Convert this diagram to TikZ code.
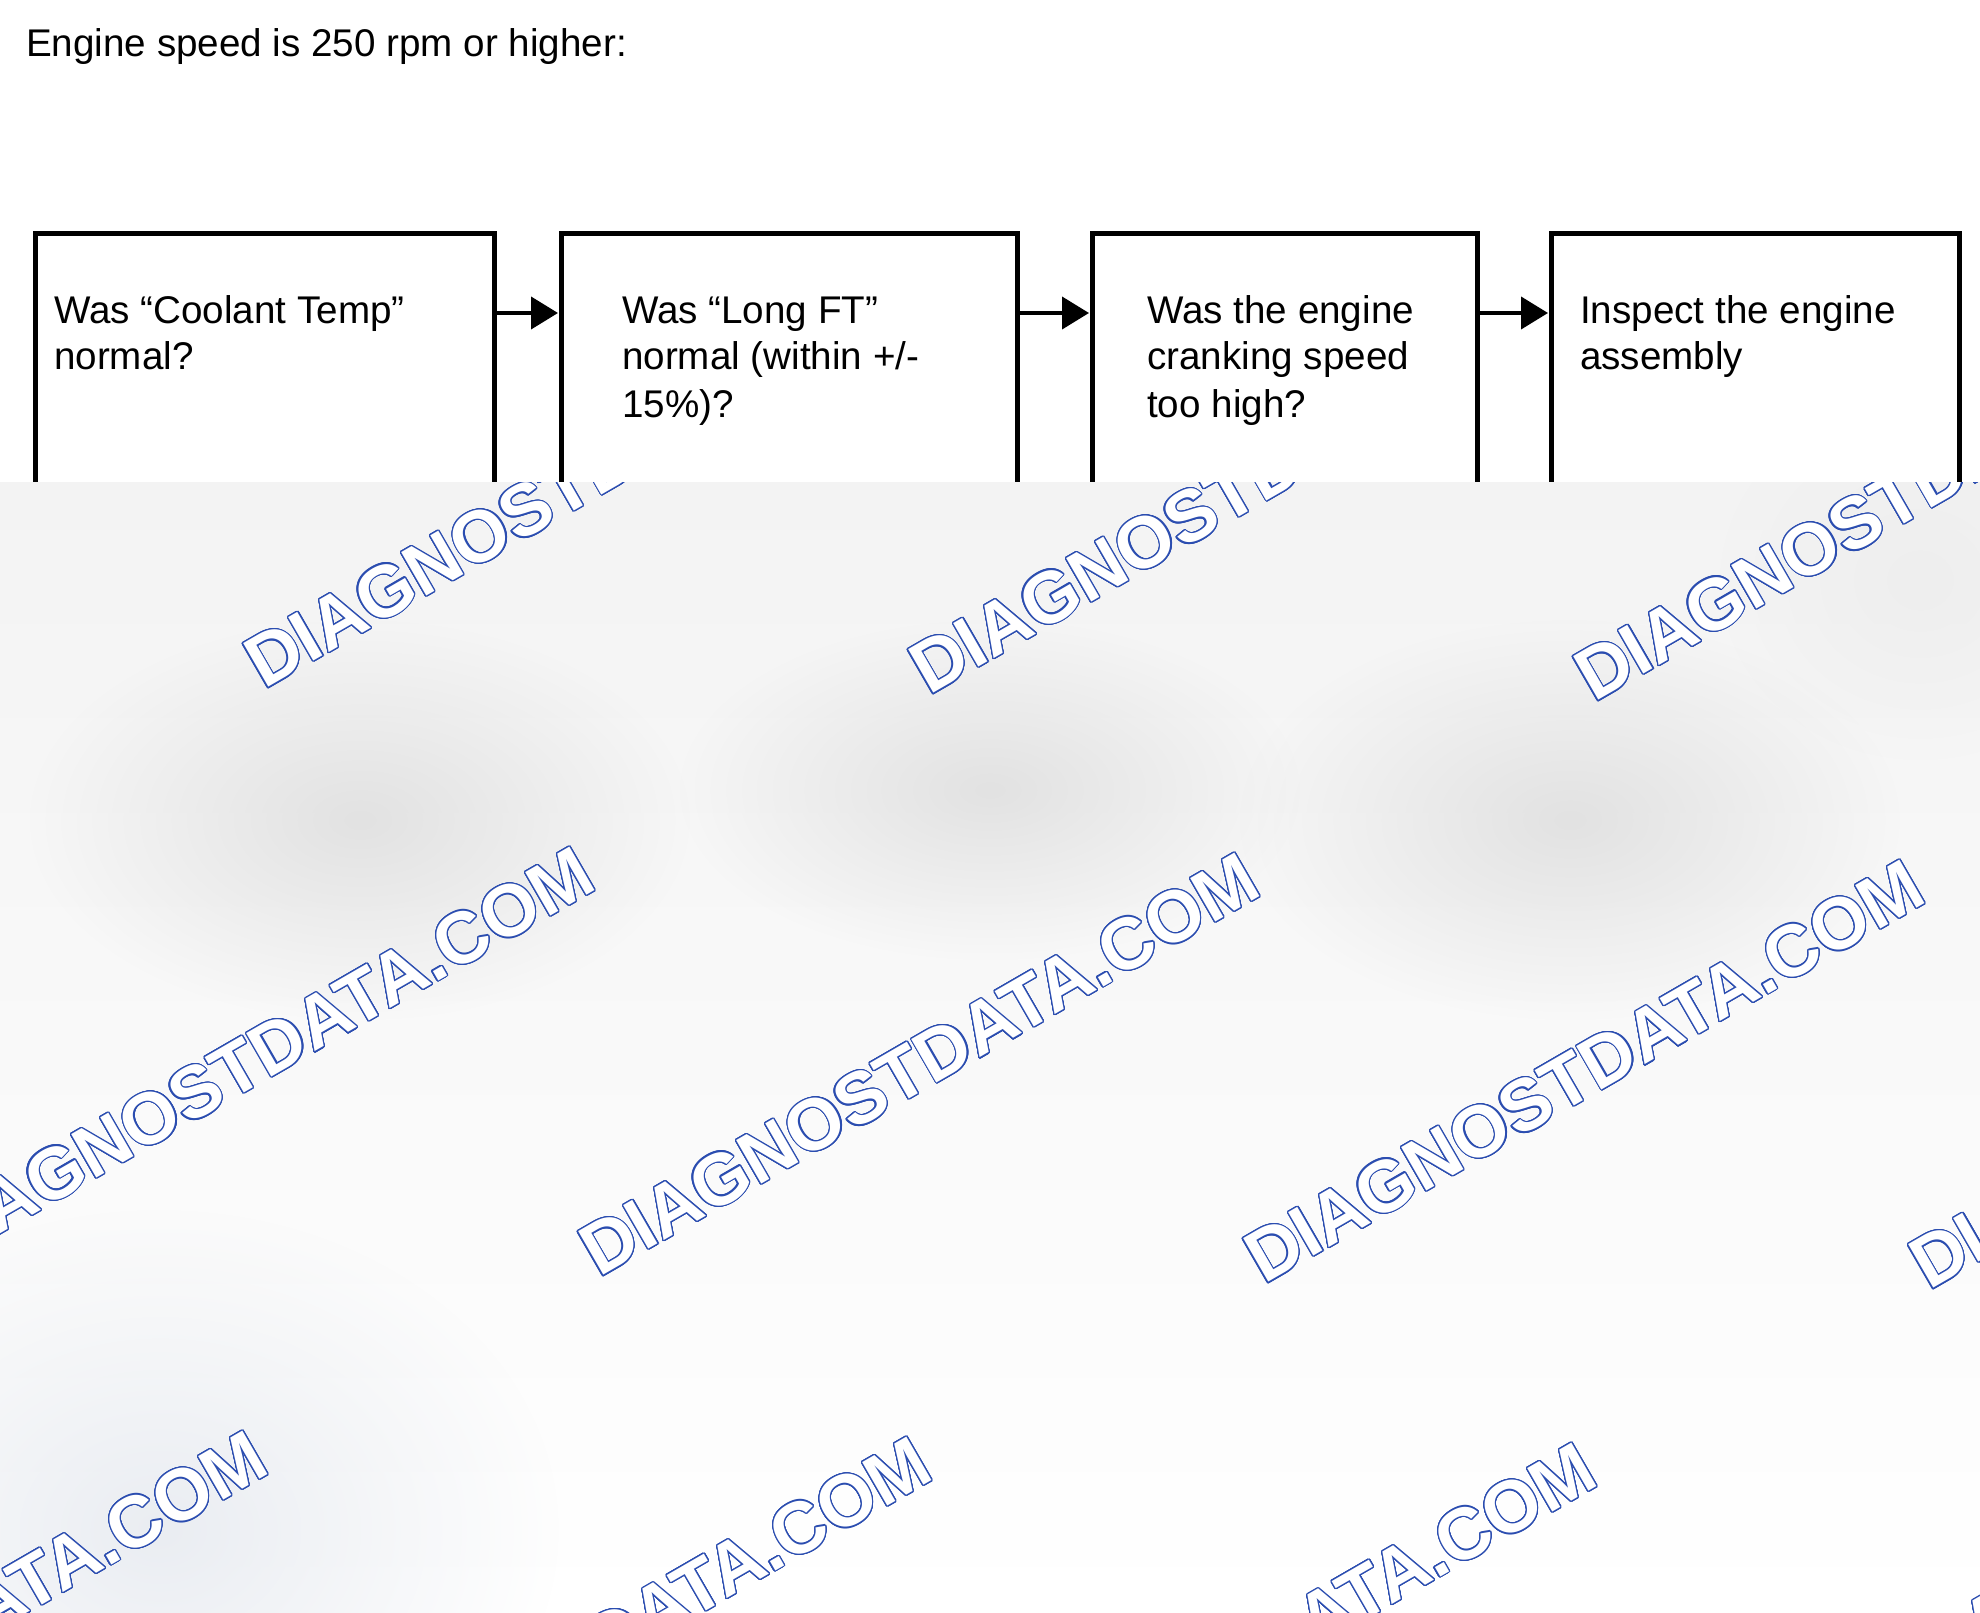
\documentclass[tikz,border=0pt]{standalone}
\usepackage{fontspec}
\setmainfont{Liberation Sans}
\usepackage[copies]{contour}
\usetikzlibrary{arrows.meta,fadings}

\definecolor{markBlue}{RGB}{43,77,176}
\definecolor{fogTop}{RGB}{243,243,243}
\definecolor{fogGray}{RGB}{226,226,226}
\definecolor{fogBlue}{RGB}{234,237,242}
\contourlength{1.2pt}
\contournumber{24}
\tikzfading[name=fogFade, inner color=transparent!0, outer color=transparent!100]

\begin{document}
\begin{tikzpicture}[x=1pt,y=-1pt,
  stepBox/.style={draw, line width=5pt, anchor=north west, inner sep=0, minimum height=369pt},
  stepText/.style={anchor=base west, inner sep=0, font=\fontsize{38.6}{47}\selectfont},
  flow/.style={line width=4pt, -{Triangle[length=27pt,width=32pt]}, shorten >=1pt},
  markText/.style={anchor=base west, inner sep=0, rotate=30, text=white, font=\fontsize{73}{73}\selectfont\bfseries}]
  \useasboundingbox (0,0) rectangle (1980,1613);
  \fill[white] (0,0) rectangle (1980,1613);
  \node[stepText] (title) at (26,57) {Engine speed is 250 rpm or higher:};
  % Boxes
  \node[stepBox, minimum width=459pt] (coolant) at (33,231) {};
  \node[stepBox, minimum width=456pt] (longft) at (559,231) {};
  \node[stepBox, minimum width=385pt] (cranking) at (1090,231) {};
  \node[stepBox, minimum width=408pt] (inspect) at (1549,231) {};
  \node[stepText] (coolantText) at (54,323) {\begin{tabular}[t]{@{}l@{}}Was “Coolant Temp”\\normal?\end{tabular}};
  \node[stepText] (longftText) at (622,323) {\begin{tabular}[t]{@{}l@{}}Was “Long FT”\\normal (within +/-\\15\%)?\end{tabular}};
  \node[stepText] (crankingText) at (1147,323) {\begin{tabular}[t]{@{}l@{}}Was the engine\\cranking speed\\too high?\end{tabular}};
  \node[stepText] (inspectText) at (1580,323) {\begin{tabular}[t]{@{}l@{}}Inspect the engine\\assembly\end{tabular}};
  % Arrows
  \draw[flow] ([yshift=-82pt]coolant.north east) -- ([yshift=-82pt]longft.north west);
  \draw[flow] ([yshift=-82pt]longft.north east) -- ([yshift=-82pt]cranking.north west);
  \draw[flow] ([yshift=-82pt]cranking.north east) -- ([yshift=-82pt]inspect.north west);
  % Fog and watermark
  \begin{scope}
    \clip (0,482) rectangle (1980,1613);
    \shade[top color=fogTop, bottom color=white] (0,482) rectangle (1980,1613);
    \fill[fogGray, path fading=fogFade] (360,820) ellipse (330 and 200);
    \fill[fogGray, path fading=fogFade] (990,790) ellipse (310 and 170);
    \fill[fogGray, path fading=fogFade] (1570,820) ellipse (330 and 200);
    \fill[fogGray!60!white, path fading=fogFade] (1920,580) ellipse (200 and 180);
    \fill[fogBlue, path fading=fogFade] (160,1530) ellipse (400 and 320);
    \node[markText] (mark1) at (264,690) {\contour{markBlue}{DIAGNOSTDATA.COM}};
    \node[markText] (mark2) at (929,696) {\contour{markBlue}{DIAGNOSTDATA.COM}};
    \node[markText] (mark3) at (1594,703) {\contour{markBlue}{DIAGNOSTDATA.COM}};
    \node[markText] (mark4) at (-66,1272) {\contour{markBlue}{DIAGNOSTDATA.COM}};
    \node[markText] (mark5) at (599,1278) {\contour{markBlue}{DIAGNOSTDATA.COM}};
    \node[markText] (mark6) at (1264,1285) {\contour{markBlue}{DIAGNOSTDATA.COM}};
    \node[markText] (mark7) at (1929,1291) {\contour{markBlue}{DIAGNOSTDATA.COM}};
    \node[markText] (mark8) at (-393,1856) {\contour{markBlue}{DIAGNOSTDATA.COM}};
    \node[markText] (mark9) at (271,1862) {\contour{markBlue}{DIAGNOSTDATA.COM}};
    \node[markText] (mark10) at (936,1868) {\contour{markBlue}{DIAGNOSTDATA.COM}};
    \node[markText] (mark11) at (1601,1874) {\contour{markBlue}{DIAGNOSTDATA.COM}};
  \end{scope}
\end{tikzpicture}
\end{document}
